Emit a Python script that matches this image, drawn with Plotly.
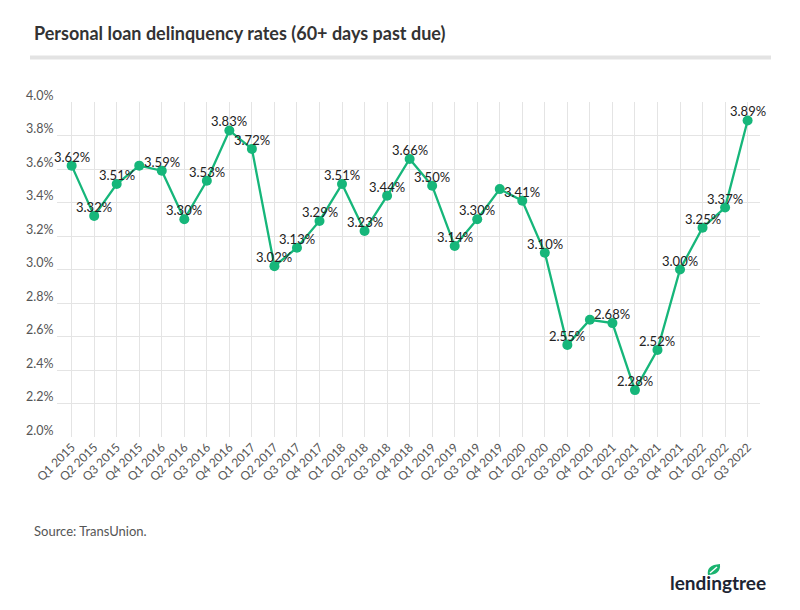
import plotly.graph_objects as go

quarters = ["Q1 2015", "Q2 2015", "Q3 2015", "Q4 2015", "Q1 2016", "Q2 2016", "Q3 2016", "Q4 2016",
            "Q1 2017", "Q2 2017", "Q3 2017", "Q4 2017", "Q1 2018", "Q2 2018", "Q3 2018", "Q4 2018",
            "Q1 2019", "Q2 2019", "Q3 2019", "Q4 2019", "Q1 2020", "Q2 2020", "Q3 2020", "Q4 2020",
            "Q1 2021", "Q2 2021", "Q3 2021", "Q4 2021", "Q1 2022", "Q2 2022", "Q3 2022"]
rates = [3.62, 3.32, 3.51, 3.62, 3.59, 3.30, 3.53, 3.83,
         3.72, 3.02, 3.13, 3.29, 3.51, 3.23, 3.44, 3.66,
         3.50, 3.14, 3.30, 3.48, 3.41, 3.10, 2.55, 2.70,
         2.68, 2.28, 2.52, 3.00, 3.25, 3.37, 3.89]
# points whose value label is not shown in the reference
hidden_labels = ["Q4 2015", "Q4 2019", "Q4 2020"]
y_ticks = [2.0, 2.2, 2.4, 2.6, 2.8, 3.0, 3.2, 3.4, 3.6, 3.8, 4.0]
y_tick_text = ["2.0%", "2.2%", "2.4%", "2.6%", "2.8%", "3.0%", "3.2%", "3.4%", "3.6%", "3.8%", "4.0%"]

GREEN = "#16b67a"
FONT = "Lato, 'Open Sans', sans-serif"

L, R, T, B = 57, 40, 102, 173
W, H = 800, 610
pw, ph = W - L - R, H - T - B


def px(x):
    return (x - L) / pw


def py(y):
    return (H - B - y) / ph


fig = go.Figure()
fig.add_trace(go.Scatter(
    x=quarters, y=rates, mode="lines+markers",
    line=dict(color=GREEN, width=2.3),
    marker=dict(color=GREEN, size=10),
    hoverinfo="x+y", showlegend=False,
))

annotations = []
for q, v in zip(quarters, rates):
    if q in hidden_labels:
        continue
    annotations.append(dict(x=q, y=v, xref="x", yref="y", text=f"{v:.2f}%",
                            showarrow=False, yshift=9, xanchor="center", yanchor="middle",
                            font=dict(family=FONT, size=13, color="#222222")))
for t, s in zip(y_ticks, y_tick_text):
    annotations.append(dict(x=-0.003, y=t, xref="paper", yref="y", text=s,
                            showarrow=False, yshift=7, xanchor="right", yanchor="middle",
                            font=dict(family=FONT, size=12.5, color="#555555")))

annotations.append(dict(x=px(32), y=py(33), xref="paper", yref="paper",
                        text="<b>Personal loan delinquency rates (60+ days past due)</b>",
                        showarrow=False, xanchor="left", yanchor="middle",
                        font=dict(family=FONT, size=18, color="#333333")))
annotations.append(dict(x=px(32), y=py(531), xref="paper", yref="paper", text="Source: TransUnion.",
                        showarrow=False, xanchor="left", yanchor="middle",
                        font=dict(family=FONT, size=13, color="#555555")))
annotations.append(dict(x=px(768), y=py(582), xref="paper", yref="paper", text="<b>lendingtree</b>",
                        showarrow=False, xanchor="right", yanchor="middle",
                        font=dict(family=FONT, size=19, color="#1d2433")))

shapes = [
    dict(type="rect", xref="paper", yref="paper", x0=px(30), x1=px(771), y0=py(55.5), y1=py(59.5),
         fillcolor="#e3e3e3", line=dict(width=0), layer="below"),
    dict(type="path", xref="paper", yref="paper",
         path=(f"M {px(708)},{py(575)} Q {px(706)},{py(565)} {px(720)},{py(564)} "
               f"Q {px(721)},{py(575)} {px(708)},{py(575)} Z"),
         fillcolor="#19b36f", line=dict(width=0)),
    dict(type="path", xref="paper", yref="paper",
         path=f"M {px(710)},{py(573)} L {px(717)},{py(567)}",
         line=dict(color="white", width=1.5)),
]

fig.update_layout(
    width=W, height=H, autosize=False,
    margin=dict(l=L, r=R, t=T, b=B),
    paper_bgcolor="white", plot_bgcolor="white",
    font=dict(family=FONT),
    annotations=annotations, shapes=shapes,
    xaxis=dict(type="category", range=[-0.65, 30.55], showgrid=True, gridcolor="#e4e4e4", gridwidth=1,
               tickangle=-45, tickfont=dict(family=FONT, size=12, color="#555555"),
               ticks="", showline=False, zeroline=False),
    yaxis=dict(range=[2.0, 4.0], tickvals=y_ticks, showticklabels=False, showgrid=True,
               gridcolor="#e4e4e4", gridwidth=1, zeroline=False, showline=False, ticks=""),
)

fig.write_html("out.html", post_script="document.body.style.margin='0';",
               config={"displayModeBar": False})
